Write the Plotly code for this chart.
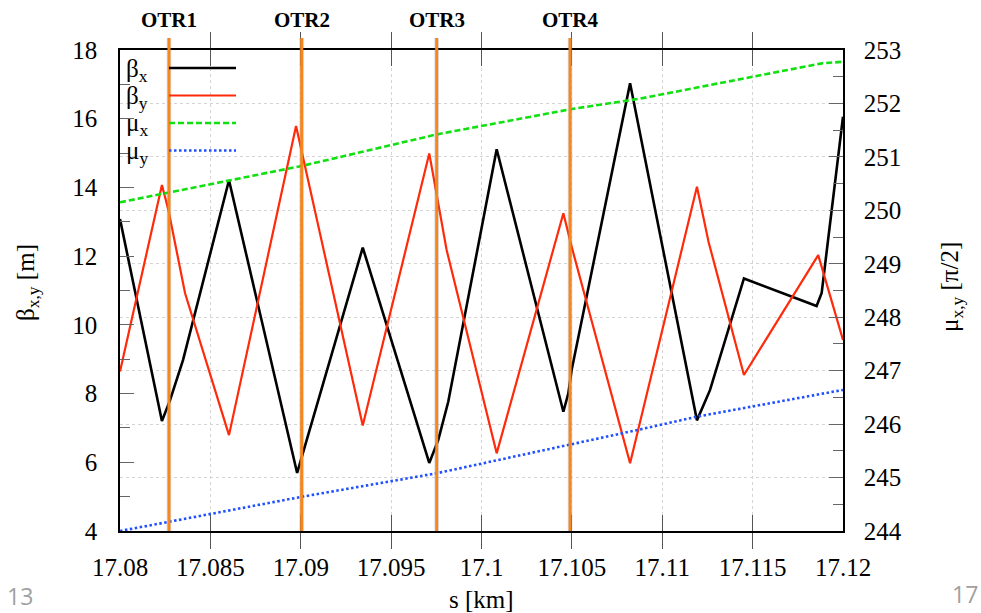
import plotly.graph_objects as go

# Beta functions along the line (s in km, beta in m)
s_beta_x = [17.08000, 17.08232, 17.08277, 17.08349, 17.08603, 17.08980, 17.09343,
            17.09711, 17.09761, 17.09816, 17.10084, 17.10453, 17.10480, 17.10499,
            17.10822, 17.11192, 17.11264, 17.11452, 17.11854, 17.11882, 17.12000]
beta_x = [13.08, 7.20, 7.81, 8.98, 14.21, 5.69, 12.25,
          5.98, 6.65, 7.76, 15.11, 7.47, 8.00, 8.69,
          17.03, 7.22, 8.10, 11.35, 10.55, 10.93, 16.06]

s_beta_y = [17.08000, 17.08232, 17.08268, 17.08360, 17.08603, 17.08974, 17.09343,
            17.09711, 17.09807, 17.10084, 17.10453, 17.10499, 17.10822, 17.11192,
            17.11256, 17.11452, 17.11863, 17.12000]
beta_y = [8.64, 14.07, 13.34, 10.92, 6.79, 15.79, 7.07,
          14.99, 12.18, 6.26, 13.25, 12.27, 5.97, 14.02,
          12.42, 8.54, 12.03, 9.56]

# Phase advances (units of pi/2)
s_mu = [17.08000, 17.08271, 17.09005, 17.09752, 17.10490, 17.10877, 17.11192, 17.11882, 17.12000]
mu_x = [250.15, 250.33, 250.83, 251.42, 251.89, 252.09, 252.30, 252.75, 252.78]
mu_y = [244.00, 244.17, 244.64, 245.08, 245.61, 245.90, 246.14, 246.57, 246.64]

# Screen positions
otr_names = ["OTR1", "OTR2", "OTR3", "OTR4"]
otr_s = [17.08271, 17.09005, 17.09752, 17.10490]

# Axis ticks
x_ticks = [17.08, 17.085, 17.09, 17.095, 17.10, 17.105, 17.11, 17.115, 17.12]
x_tick_text = ["17.08", "17.085", "17.09", "17.095", "17.1", "17.105", "17.11", "17.115", "17.12"]

W, H = 981, 613
L, R, T, B = 120, 843, 50, 531
PW, PH = R - L, B - T


def px(xp):
    return (xp - L) / PW


def py(yp):
    return (B - yp) / PH


SERIF = "Liberation Serif"
TICK_FONT = dict(family=SERIF, size=25, color="black")

fig = go.Figure()

fig.add_trace(go.Scatter(x=s_beta_x, y=beta_x, mode="lines", name="βx",
                         line=dict(color="black", width=2.6)))
fig.add_trace(go.Scatter(x=s_beta_y, y=beta_y, mode="lines", name="βy",
                         line=dict(color="#ff2a0a", width=2.2)))
fig.add_trace(go.Scatter(x=s_mu, y=mu_x, mode="lines", name="μx", yaxis="y2",
                         line=dict(color="#10e010", width=2.6, dash="6px,3px")))
fig.add_trace(go.Scatter(x=s_mu, y=mu_y, mode="lines", name="μy", yaxis="y2",
                         line=dict(color="#2050ff", width=2.6, dash="2.5px,2.5px")))

shapes = []
annotations = []

# OTR screen markers
for name, s in zip(otr_names, otr_s):
    shapes.append(dict(type="line", xref="x", yref="paper", x0=s, x1=s, y0=0, y1=py(38),
                       line=dict(color="rgba(120,120,120,0.3)", width=4.5), layer="above"))
    shapes.append(dict(type="line", xref="x", yref="paper", x0=s, x1=s, y0=0, y1=py(38),
                       line=dict(color="#f8861a", width=2.8), layer="above"))
    annotations.append(dict(x=s, xref="x", y=py(20), yref="paper", text="<b>%s</b>" % name,
                            showarrow=False, xanchor="center", yanchor="middle",
                            font=dict(family=SERIF, size=21, color="black")))

# Key: label on the left, line sample on the right
key_rows = [
    ("β<sub>x</sub>", dict(color="black", width=2.6), 68),
    ("β<sub>y</sub>", dict(color="#ff2a0a", width=2.2), 95.5),
    ("μ<sub>x</sub>", dict(color="#10e010", width=2.6, dash="6px,3px"), 123),
    ("μ<sub>y</sub>", dict(color="#2050ff", width=2.6, dash="2.5px,2.5px"), 150.5),
]
for label, ln, yp in key_rows:
    shapes.append(dict(type="line", xref="paper", yref="paper", x0=px(169), x1=px(236),
                       y0=py(yp), y1=py(yp), line=ln, layer="above"))
    annotations.append(dict(x=px(124), xref="paper", y=py(yp + 2), yref="paper", text=label,
                            showarrow=False, xanchor="left", yanchor="middle",
                            font=dict(family=SERIF, size=25, color="black")))

# Axis titles
annotations.append(dict(x=px(27), xref="paper", y=py(283), yref="paper",
                        text="β<sub>x,y</sub> [m]", textangle=-90, showarrow=False,
                        xanchor="center", yanchor="middle",
                        font=dict(family=SERIF, size=25, color="black")))
annotations.append(dict(x=px(951), xref="paper", y=py(287), yref="paper",
                        text="μ<sub>x,y</sub> [π/2]", textangle=-90, showarrow=False,
                        xanchor="center", yanchor="middle",
                        font=dict(family=SERIF, size=25, color="black")))
annotations.append(dict(x=px(481), xref="paper", y=py(599), yref="paper",
                        text="s [km]", showarrow=False,
                        xanchor="center", yanchor="middle",
                        font=dict(family=SERIF, size=25, color="black")))

# Slide footer
annotations.append(dict(x=px(5), xref="paper", y=py(596), yref="paper", text="13",
                        showarrow=False, xanchor="left", yanchor="middle",
                        font=dict(family="Open Sans", size=23, color="#a0a0a0")))
annotations.append(dict(x=px(980), xref="paper", y=py(594), yref="paper", text="17",
                        showarrow=False, xanchor="right", yanchor="middle",
                        font=dict(family="Open Sans", size=23, color="#a0a0a0")))

fig.update_layout(
    width=W, height=H,
    margin=dict(l=L, r=W - R, t=T, b=H - B, pad=0),
    paper_bgcolor="white", plot_bgcolor="white",
    showlegend=False,
    shapes=shapes, annotations=annotations,
    xaxis=dict(
        range=[17.08, 17.12], tickvals=x_ticks, ticktext=x_tick_text,
        ticks="inside", ticklen=16, tickwidth=1.2, tickcolor="#555",
        showline=True, linecolor="black", linewidth=1.5, mirror="allticks",
        showgrid=True, gridcolor="#d4d4d4", griddash="dot", gridwidth=1,
        zeroline=False, tickfont=TICK_FONT, ticklabelstandoff=13,
    ),
    yaxis=dict(
        range=[4, 18], tick0=4, dtick=2,
        ticks="inside", ticklen=14, tickwidth=1.2, tickcolor="#666",
        minor=dict(dtick=1, ticks="inside", ticklen=10, tickwidth=1.2, tickcolor="#666", showgrid=False),
        showline=True, linecolor="black", linewidth=1.5,
        showgrid=False, zeroline=False, tickfont=TICK_FONT, ticklabelstandoff=16,
    ),
    yaxis2=dict(
        range=[244, 253], tick0=244, dtick=1, overlaying="y", side="right",
        ticks="inside", ticklen=14, tickwidth=1.2, tickcolor="#666",
        minor=dict(dtick=0.5, ticks="inside", ticklen=10, tickwidth=1.2, tickcolor="#666", showgrid=False),
        showline=True, linecolor="black", linewidth=1.5,
        showgrid=True, gridcolor="#d4d4d4", griddash="dot", gridwidth=1,
        zeroline=False, tickfont=TICK_FONT, ticklabelstandoff=14,
    ),
)

fig.write_html("out.html")
